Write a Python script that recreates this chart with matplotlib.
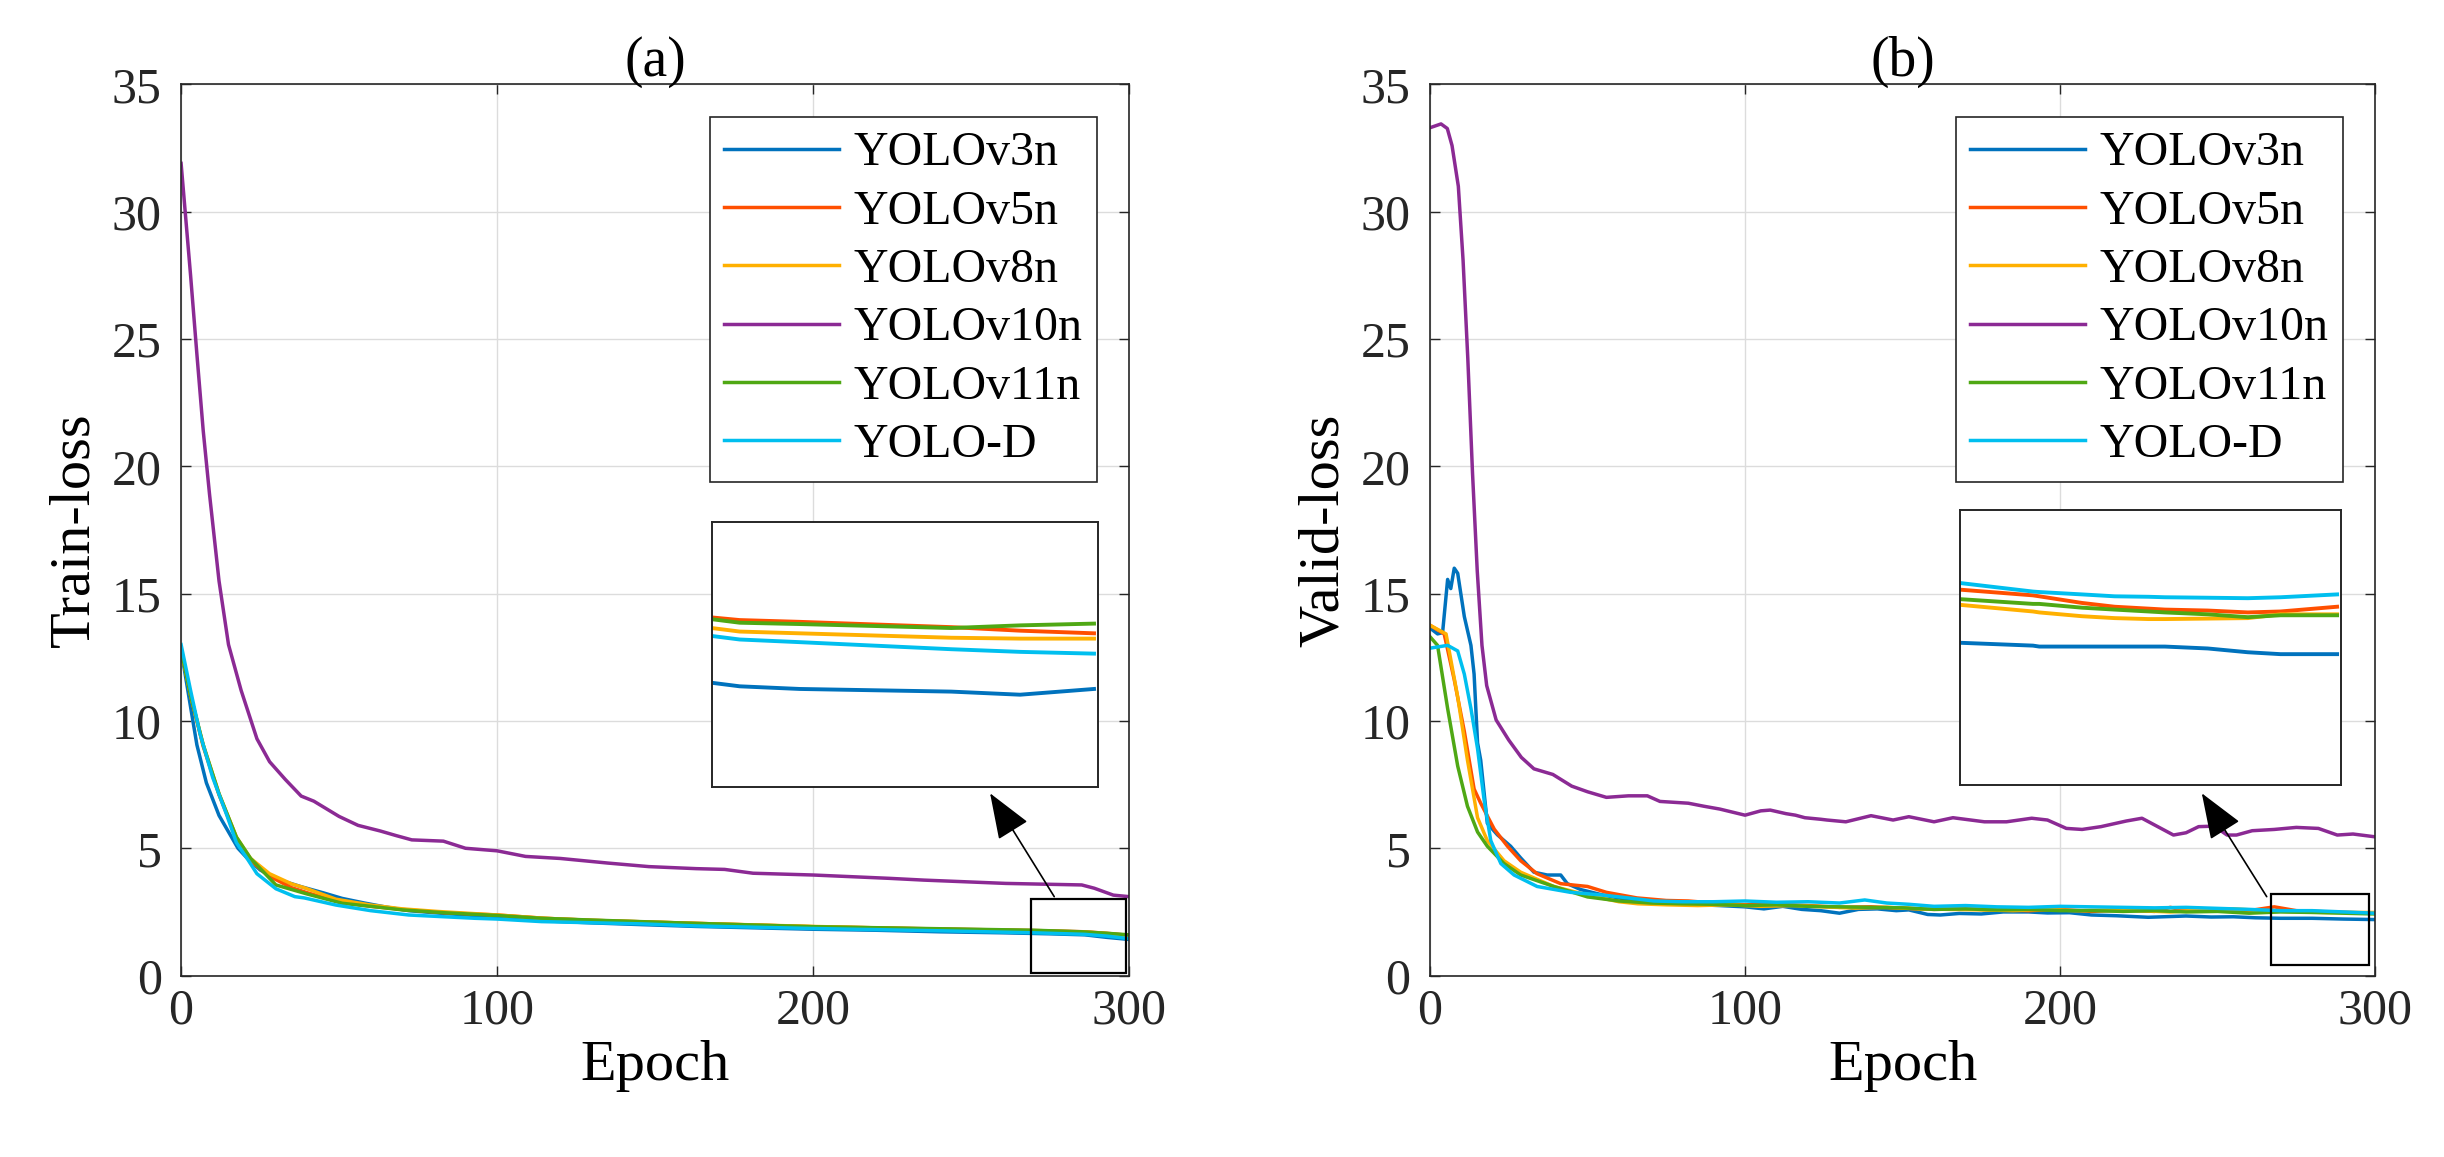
import numpy as np
import matplotlib
matplotlib.use("Agg")
import matplotlib.pyplot as plt
from matplotlib.patches import Rectangle

plt.rcParams['font.family'] = ['Liberation Serif', 'DejaVu Serif']

names = ['YOLOv3n', 'YOLOv5n', 'YOLOv8n', 'YOLOv10n', 'YOLOv11n', 'YOLO-D']
colors = ['#0072BD', '#FF4F00', '#FFB000', '#8B2A94', '#4FA814', '#00BFEF']

# ---- (a) train loss, (epoch, value)
train_v3n = [(0, 12.8), (3, 10.55), (5, 9.06), (8, 7.57), (12, 6.29), (18, 5.0), (21, 4.6), (25, 4.15),
             (30, 3.8), (38, 3.49), (45, 3.25), (51, 3.03), (58, 2.85), (64, 2.71), (72, 2.55), (82, 2.45),
             (100, 2.3), (115, 2.15), (130, 2.07), (146, 2.0), (163, 1.93), (180, 1.88), (200, 1.82),
             (220, 1.78), (240, 1.72), (260, 1.68), (275, 1.64), (286, 1.6), (293, 1.5), (300, 1.42)]
train_v5n = [(0, 12.8), (3, 11.0), (7, 9.0), (12, 7.1), (17.5, 5.4), (22, 4.5), (28, 3.9), (35, 3.45),
             (40, 3.25), (50, 2.9), (60, 2.72), (70, 2.6), (83, 2.47), (100, 2.38), (115, 2.25), (130, 2.17),
             (163, 2.05), (200, 1.92), (240, 1.83), (270, 1.77), (286, 1.72), (293, 1.66), (300, 1.58)]
train_v8n = [(0, 12.8), (3, 11.0), (7, 9.06), (12, 7.14), (17.5, 5.44), (22, 4.6), (28, 4.0), (35, 3.6),
             (39, 3.45), (49, 3.0), (60, 2.77), (70, 2.62), (81, 2.52), (100, 2.38), (115, 2.25), (130, 2.17),
             (163, 2.05), (200, 1.93), (240, 1.82), (270, 1.76), (286, 1.71), (293, 1.65), (300, 1.55)]
train_v10n = [(0, 31.9), (3, 27.5), (5, 24.4), (7, 21.4), (9, 18.9), (12, 15.5), (15, 13.0), (19, 11.2),
              (24, 9.3), (28, 8.4), (33, 7.7), (38, 7.05), (42, 6.85), (46, 6.55), (50, 6.25), (56, 5.9),
              (63, 5.68), (68, 5.5), (73, 5.33), (83, 5.28), (90, 5.0), (100, 4.9), (109, 4.68), (120, 4.6),
              (135, 4.42), (148, 4.28), (163, 4.2), (172, 4.17), (181, 4.02), (200, 3.95), (224, 3.82),
              (235, 3.75), (261, 3.62), (285, 3.56), (289, 3.43), (295, 3.16), (300, 3.1)]
train_v11n = [(0, 12.8), (3, 11.0), (7, 9.06), (12, 7.14), (17.5, 5.44), (22, 4.6), (30, 3.56), (40, 3.2),
              (51, 2.84), (60, 2.72), (70, 2.58), (83, 2.47), (100, 2.36), (114, 2.25), (130, 2.18),
              (163, 2.05), (200, 1.92), (240, 1.84), (270, 1.78), (285, 1.72), (293, 1.66), (300, 1.6)]
train_yolod = [(0, 13.0), (3, 11.2), (6, 9.49), (10, 7.78), (14.5, 6.29), (17.5, 5.22), (21, 4.58), (24, 4.0),
               (30, 3.41), (36, 3.1), (39, 3.05), (49, 2.77), (60, 2.55), (72, 2.38), (93, 2.25), (100, 2.22),
               (114, 2.12), (146, 2.03), (163, 1.95), (200, 1.85), (240, 1.76), (270, 1.68), (286, 1.62),
               (293, 1.55), (300, 1.45)]

# ---- (b) valid loss
valid_v3n = [(0, 13.65), (2.4, 13.42), (4, 13.47), (5.6, 15.56), (6.6, 15.2), (7.7, 16.0), (8.8, 15.8),
             (10.9, 14.1), (13, 12.97), (14, 11.84), (15.1, 9.14), (16.1, 8.46), (18.2, 5.98), (21.4, 5.53),
             (25.6, 5.08), (28.8, 4.62), (33, 4.06), (37.2, 3.95), (41.5, 3.95), (43.6, 3.61), (47.8, 3.38),
             (55, 3.16), (60, 3.05), (65, 2.95), (70, 2.85), (75, 2.88), (80, 2.8), (86, 2.78), (92, 2.75),
             (100, 2.7), (106, 2.62), (112, 2.72), (118, 2.6), (124, 2.55), (130, 2.45), (136, 2.6),
             (142, 2.62), (148, 2.55), (152, 2.58), (158, 2.4), (162, 2.38), (168, 2.44), (175, 2.42),
             (182, 2.5), (190, 2.5), (196, 2.46), (203, 2.47), (210, 2.38), (218, 2.35), (228, 2.29),
             (240, 2.34), (248, 2.3), (255, 2.31), (262, 2.27), (270, 2.25), (280, 2.25), (290, 2.22),
             (300, 2.2)]
valid_v5n = [(0, 13.76), (4.5, 13.42), (7.7, 11.62), (10.9, 9.59), (14, 7.33), (16.1, 6.77), (20.4, 5.75),
             (24.6, 5.08), (28.8, 4.51), (34, 4.0), (41.5, 3.61), (46, 3.55), (50, 3.5), (56, 3.27),
             (65.7, 3.05), (75, 2.95), (82, 2.93), (90, 2.85), (100, 2.78), (110, 2.8), (120, 2.75),
             (130, 2.68), (140, 2.7), (150, 2.65), (160, 2.6), (170, 2.62), (180, 2.58), (190, 2.55),
             (200, 2.6), (210, 2.52), (220, 2.58), (230, 2.52), (235, 2.68), (240, 2.55), (250, 2.6),
             (260, 2.55), (268, 2.7), (275, 2.55), (285, 2.5), (300, 2.45)]
valid_v8n = [(0, 13.76), (5.1, 13.42), (8.8, 10.94), (11.9, 8.46), (15.1, 6.2), (18.2, 5.3), (23.5, 4.51),
             (28.8, 4.06), (39.3, 3.5), (50, 3.16), (60, 2.9), (66, 2.82), (75, 2.78), (85, 2.75), (95, 2.78),
             (105, 2.72), (115, 2.75), (125, 2.7), (135, 2.65), (145, 2.68), (155, 2.62), (165, 2.6),
             (175, 2.58), (185, 2.55), (195, 2.6), (205, 2.55), (215, 2.58), (225, 2.55), (235, 2.5),
             (245, 2.58), (255, 2.62), (265, 2.55), (275, 2.5), (285, 2.48), (300, 2.48)]
valid_v10n = [(0, 33.3), (3.5, 33.45), (5.5, 33.27), (7, 32.6), (9, 31.0), (10.5, 28.1), (12, 24.25),
              (13.5, 19.74), (15, 15.9), (16.5, 12.97), (18, 11.39), (21, 10.04), (25, 9.25), (29, 8.57),
              (33, 8.12), (39, 7.9), (45, 7.44), (50, 7.22), (56, 7.0), (63, 7.06), (69, 7.06), (73, 6.84),
              (82, 6.77), (87, 6.65), (92, 6.54), (100, 6.3), (105, 6.47), (108, 6.5), (113, 6.36),
              (116, 6.3), (119, 6.2), (124, 6.14), (126, 6.11), (132, 6.04), (140, 6.28), (147, 6.11),
              (152, 6.24), (160, 6.04), (166, 6.2), (176, 6.04), (183, 6.04), (191, 6.18), (196, 6.11),
              (202, 5.78), (207, 5.74), (213, 5.85), (221, 6.07), (226, 6.18), (236, 5.52), (240, 5.61),
              (244, 5.85), (249, 5.87), (253, 5.52), (256, 5.52), (261, 5.69), (268, 5.74), (275, 5.82),
              (282, 5.78), (288, 5.52), (293, 5.56), (300, 5.45)]
valid_v11n = [(0, 13.31), (2.4, 12.97), (5.6, 10.49), (8.8, 8.23), (11.9, 6.65), (15.1, 5.64), (18.2, 5.08),
              (23.5, 4.4), (28.8, 3.95), (39.3, 3.5), (50, 3.09), (60, 2.93), (70, 2.85), (80, 2.82),
              (90, 2.8), (100, 2.75), (110, 2.78), (120, 2.72), (130, 2.7), (140, 2.68), (150, 2.66),
              (160, 2.6), (170, 2.62), (180, 2.58), (190, 2.6), (200, 2.55), (210, 2.55), (220, 2.52),
              (230, 2.55), (240, 2.5), (250, 2.52), (260, 2.45), (270, 2.5), (280, 2.48), (290, 2.45),
              (300, 2.42)]
valid_yolod = [(0, 12.86), (5.6, 12.97), (8.8, 12.75), (10.9, 11.84), (13, 10.49), (15.1, 8.91), (17.2, 6.88),
               (19.3, 5.3), (22.5, 4.4), (26.7, 3.95), (34, 3.5), (44.6, 3.27), (55, 3.16), (63, 3.05),
               (71, 2.93), (80, 2.9), (90, 2.9), (100, 2.93), (110, 2.88), (120, 2.9), (130, 2.85),
               (138, 2.97), (145, 2.85), (152, 2.8), (160, 2.72), (170, 2.75), (180, 2.7), (190, 2.68),
               (200, 2.72), (210, 2.7), (220, 2.68), (230, 2.66), (240, 2.68), (250, 2.64), (260, 2.6),
               (270, 2.55), (280, 2.55), (290, 2.5), (300, 2.45)]

# ---- zoomed insets (the insets show their own values)
inset_a_x = [270, 272.2, 276.9, 288.8, 294.2, 300]
inset_a = [[1.18, 1.14, 1.11, 1.08, 1.045, 1.11],     # v3n
           [1.92, 1.89, 1.87, 1.81, 1.77, 1.74],      # v5n
           [1.80, 1.76, 1.74, 1.69, 1.68, 1.68],      # v8n
           None,                                      # v10n (off scale)
           [1.90, 1.86, 1.845, 1.80, 1.83, 1.85],     # v11n
           [1.71, 1.67, 1.64, 1.56, 1.53, 1.51]]      # YOLO-D
inset_b_x = [270, 275.8, 276.3, 279.7, 282.3, 285, 286.3, 289.7, 292.9, 295.5, 300]
inset_b = [[1.80, 1.77, 1.76, 1.76, 1.76, 1.76, 1.76, 1.74, 1.70, 1.68, 1.68],
           [2.36, 2.30, 2.29, 2.22, 2.18, 2.16, 2.15, 2.14, 2.12, 2.13, 2.18],
           [2.20, 2.13, 2.12, 2.08, 2.06, 2.05, 2.05, 2.055, 2.06, 2.10, 2.10],
           None,
           [2.26, 2.21, 2.21, 2.17, 2.15, 2.13, 2.12, 2.10, 2.07, 2.09, 2.09],
           [2.43, 2.34, 2.335, 2.31, 2.29, 2.285, 2.28, 2.275, 2.27, 2.28, 2.31]]

train = [train_v3n, train_v5n, train_v8n, train_v10n, train_v11n, train_yolod]
valid = [valid_v3n, valid_v5n, valid_v8n, valid_v10n, valid_v11n, valid_yolod]

fig = plt.figure(figsize=(24.44, 11.57), dpi=100)
axes = [fig.add_axes([0.0741, 0.1568, 0.3879, 0.7702]),
        fig.add_axes([0.5851, 0.1568, 0.3867, 0.7702])]
insets = [fig.add_axes([0.2912, 0.3198, 0.1580, 0.2290]),
          fig.add_axes([0.8020, 0.3215, 0.1558, 0.2377])]

panels = [(train, 'Train-loss', '(a)', (269, 0.1, 30, 2.9), (276.3, 3.1), (256, 7.16), inset_a_x, inset_a, (0, 3)),
          (valid, 'Valid-loss', '(b)', (267, 0.4, 31, 2.8), (265.6, 3.1), (245, 7.16), inset_b_x, inset_b, (0.3, 3.2))]

for ax, ins, (data, ylab, title, rect, a_from, a_to, ix, iy, ilim) in zip(axes, insets, panels):
    for k, d in enumerate(data):
        d = np.array(d)
        ax.plot(d[:, 0], d[:, 1], color=colors[k], lw=2.5, label=names[k])
    ax.set_xlim(0, 300)
    ax.set_ylim(0, 35)
    ax.set_xticks([0, 100, 200, 300])
    ax.set_yticks(range(0, 36, 5))
    ax.grid(True, color='#dcdcdc', lw=1.0)
    ax.set_axisbelow(True)
    ax.tick_params(direction='in', length=7, width=1, top=True, right=True, labelsize=36, colors='#262626')
    ax.tick_params(axis='x', pad=9)
    ax.tick_params(axis='y', pad=14)
    for s in ax.spines.values():
        s.set_linewidth(1.2)
        s.set_color('#262626')
    ax.set_xlabel('Epoch', fontsize=42, labelpad=4)
    ax.set_ylabel(ylab, fontsize=42, labelpad=8)
    ax.set_title(title, fontsize=40, pad=6)
    leg = ax.legend(loc='upper right', bbox_to_anchor=(0.966, 0.9636), borderaxespad=0, fontsize=34.5,
                    fancybox=False, edgecolor='#262626', framealpha=1, handlelength=2.4,
                    handletextpad=0.3, labelspacing=0.3, borderpad=0.3)
    leg.get_frame().set_linewidth(1.2)

    ax.add_patch(Rectangle(rect[:2], rect[2], rect[3], fill=False, ec='black', lw=1.6, zorder=5))
    ax.annotate('', xy=a_to, xytext=a_from,
                arrowprops=dict(arrowstyle='-|>,head_length=1.45,head_width=0.55', mutation_scale=20,
                                color='black', lw=1.2, shrinkA=0, shrinkB=0))

    for k, v in enumerate(iy):
        if v is not None:
            ins.plot(ix, v, color=colors[k], lw=2.8)
    ins.set_xlim(270, 300.3)
    ins.set_ylim(*ilim)
    ins.set_xticks([])
    ins.set_yticks([])
    for s in ins.spines.values():
        s.set_linewidth(1.4)
        s.set_color('#262626')

fig.savefig('out.png', dpi=100)
